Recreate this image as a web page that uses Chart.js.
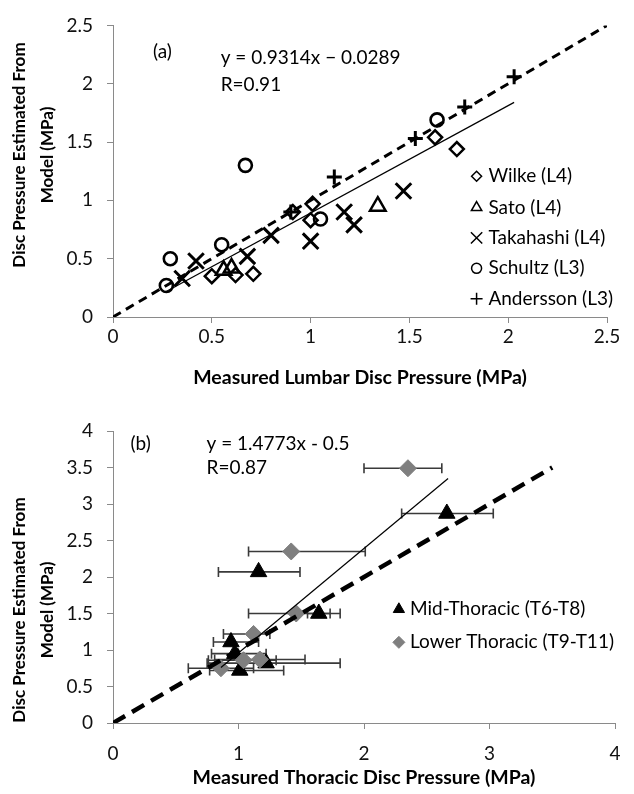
<!DOCTYPE html>
<html><head><meta charset="utf-8">
<script src="https://cdn.jsdelivr.net/npm/chart.js@4.4.0/dist/chart.umd.min.js"></script>
<style>
html,body{margin:0;padding:0;background:#fff;width:634px;height:794px;overflow:hidden}
canvas{position:absolute;left:0}
</style></head><body>
<canvas id="ca" width="634" height="400" style="top:0"></canvas>
<canvas id="cb" width="634" height="394" style="top:400px"></canvas>
<script>
// ---------- Panel (a) data : lumbar ----------
const wilkeX = [0.50, 0.62, 0.71, 0.91, 1.00, 1.01, 1.63, 1.74];
const wilkeY = [0.35, 0.36, 0.37, 0.90, 0.83, 0.97, 1.54, 1.44];
const satoX = [0.56, 0.60, 1.34];
const satoY = [0.40, 0.42, 0.95];
const takahashiX = [0.35, 0.42, 0.68, 0.80, 1.00, 1.17, 1.22, 1.47];
const takahashiY = [0.33, 0.48, 0.52, 0.70, 0.65, 0.90, 0.79, 1.08];
const schultzX = [0.27, 0.29, 0.55, 0.67, 1.05, 1.64];
const schultzY = [0.27, 0.50, 0.62, 1.30, 0.84, 1.69];
const anderssonX = [0.90, 1.12, 1.53, 1.78, 2.03];
const anderssonY = [0.90, 1.20, 1.53, 1.80, 2.06];
const identityAX = [0, 2.5];
const identityAY = [0, 2.5];
const trendAX = [0.26, 2.03];
const trendAY = [0.21, 1.84];
const ticksA = [0, 0.5, 1, 1.5, 2, 2.5];

// ---------- Panel (b) data : thoracic ----------
const midX  = [1.01, 1.22, 0.97, 0.94, 1.16, 1.64, 2.66];
const midY  = [0.72, 0.82, 0.95, 1.11, 2.07, 1.50, 2.87];
const midLo = [0.77, 0.75, 0.785, 0.80, 0.84, 1.55, 2.30];
const midHi = [1.36, 1.81, 1.22, 1.16, 1.49, 1.73, 3.03];
const lowX  = [0.86, 1.04, 1.17, 1.12, 1.46, 1.42, 2.35];
const lowY  = [0.75, 0.86, 0.87, 1.22, 1.50, 2.35, 3.49];
const lowLo = [0.60, 0.76, 0.81, 0.88, 1.08, 1.08, 2.00];
const lowHi = [1.12, 1.30, 1.53, 1.25, 1.81, 2.01, 2.62];
const identityBX = [0, 3.5];
const identityBY = [0, 3.5];
const trendBX = [0.86, 2.67];
const trendBY = [0.76, 3.35];
const ticksBX = [0, 1, 2, 3, 4];
const ticksBY = [0, 0.5, 1, 1.5, 2, 2.5, 3, 3.5, 4];

const FONT = 'Lato, "Open Sans", "Liberation Sans", sans-serif';
const AXIS = '#8a8a8a';
const pts = (xs, ys) => xs.map((x, i) => ({x: x, y: ys[i]}));

function drawMarker(ctx, style, r, bw, fill, stroke, x, y) {
  ctx.save();
  ctx.fillStyle = fill; ctx.strokeStyle = stroke; ctx.lineWidth = bw;
  Chart.helpers.drawPoint(ctx, {pointStyle: style, radius: r, rotation: 0, borderWidth: bw}, x, y);
  ctx.restore();
}

// text / legend / y-title plugin
const textPlugin = {
  id: 'texts',
  afterDraw(chart, args, o) {
    const ctx = chart.ctx, xs = chart.scales.x, ys = chart.scales.y;
    ctx.save();
    ctx.textBaseline = 'middle';
    (o.notes || []).forEach(n => {
      ctx.font = n.font; ctx.fillStyle = '#000'; ctx.textAlign = n.align || 'left';
      ctx.fillText(n.text, xs.getPixelForValue(n.x), ys.getPixelForValue(n.y));
    });
    (o.legend || []).forEach(l => {
      const px = xs.getPixelForValue(o.legendMarkerX), py = ys.getPixelForValue(l.y);
      drawMarker(ctx, l.style, l.r, l.bw, l.fill, l.stroke, px, py);
      ctx.font = o.legendFont; ctx.fillStyle = '#000'; ctx.textAlign = 'left';
      ctx.fillText(l.text, xs.getPixelForValue(o.legendTextX), py);
    });
    if (o.ytitle) {
      const t = o.ytitle;
      ctx.translate(0, t.cy);
      ctx.rotate(-Math.PI / 2);
      ctx.font = t.font; ctx.fillStyle = '#000'; ctx.textAlign = 'center';
      t.lines.forEach((s, i) => ctx.fillText(s, 0, t.xs[i]));
    }
    ctx.restore();
  }
};

// horizontal error bars plugin
const errPlugin = {
  id: 'errbars',
  beforeDatasetsDraw(chart) {
    const ctx = chart.ctx, xs = chart.scales.x, ys = chart.scales.y;
    ctx.save();
    ctx.strokeStyle = '#3a3a3a'; ctx.lineWidth = 1.6;
    chart.data.datasets.forEach(ds => {
      if (!ds.errLo) return;
      ds.data.forEach((p, i) => {
        const y = ys.getPixelForValue(p.y);
        const x0 = xs.getPixelForValue(ds.errLo[i]), x1 = xs.getPixelForValue(ds.errHi[i]);
        ctx.beginPath();
        ctx.moveTo(x0, y); ctx.lineTo(x1, y);
        ctx.moveTo(x0, y - 5); ctx.lineTo(x0, y + 5);
        ctx.moveTo(x1, y - 5); ctx.lineTo(x1, y + 5);
        ctx.stroke();
      });
    });
    ctx.restore();
  }
};

function axisCommon(min, max, tickVals, fitFn, tickPad) {
  return {
    type: 'linear', min: min, max: max,
    afterBuildTicks: s => { s.ticks = tickVals.map(v => ({value: v})); },
    afterFit: fitFn,
    grid: {display: true, drawOnChartArea: false, drawTicks: true, tickLength: 6, color: AXIS, lineWidth: 1},
    border: {display: true, color: AXIS, width: 1},
    ticks: {color: '#111', font: {family: FONT, size: 19}, padding: tickPad,
            callback: v => String(Math.round(v * 10) / 10)}
  };
}

const common = {
  responsive: false, animation: false,
  plugins: {legend: {display: false}, tooltip: {enabled: false}},
  events: []
};

// ---------- Chart (a) ----------
new Chart(document.getElementById('ca'), {
  type: 'scatter',
  data: {datasets: [
    {label: 'identity', data: pts(identityAX, identityAY), showLine: true, borderColor: '#000', borderWidth: 3, borderDash: [9, 6], pointRadius: 0, order: 0},
    {label: 'trend', data: pts(trendAX, trendAY), showLine: true, borderColor: '#000', borderWidth: 1.2, pointRadius: 0, order: 1},
    {label: 'Wilke (L4)', data: pts(wilkeX, wilkeY), pointStyle: 'rectRot', pointRadius: 7, pointBorderWidth: 2.5, borderColor: '#000', backgroundColor: 'rgba(0,0,0,0)', order: 2},
    {label: 'Sato (L4)', data: pts(satoX, satoY), pointStyle: 'triangle', pointRadius: 9, pointBorderWidth: 2.5, borderColor: '#000', backgroundColor: 'rgba(0,0,0,0)', order: 2},
    {label: 'Takahashi (L4)', data: pts(takahashiX, takahashiY), pointStyle: 'crossRot', pointRadius: 11, pointBorderWidth: 3, borderColor: '#000', backgroundColor: 'rgba(0,0,0,0)', order: 2},
    {label: 'Schultz (L3)', data: pts(schultzX, schultzY), pointStyle: 'circle', pointRadius: 6.5, pointBorderWidth: 2.6, borderColor: '#000', backgroundColor: 'rgba(0,0,0,0)', order: 2},
    {label: 'Andersson (L3)', data: pts(anderssonX, anderssonY), pointStyle: 'cross', pointRadius: 7.5, pointBorderWidth: 3, borderColor: '#000', backgroundColor: 'rgba(0,0,0,0)', order: 2}
  ]},
  options: Object.assign({}, common, {
    layout: {padding: {left: 0, right: 27, top: 19, bottom: 0}},
    scales: {
      x: Object.assign(axisCommon(0, 2.5, ticksA, s => { s.height = 83; }, 2), {
        title: {display: true, text: 'Measured Lumbar Disc Pressure (MPa)', color: '#000', font: {family: FONT, size: 19.5, weight: 'bold'}, padding: {top: 0, bottom: 11}}
      }),
      y: axisCommon(0, 2.5, ticksA, s => { s.width = 113; }, 14)
    },
    plugins: Object.assign({}, common.plugins, {
      texts: {
        notes: [
          {text: '(a)', x: 0.25, y: 2.27, align: 'center', font: '19px ' + FONT},
          {text: 'y = 0.9314x \u2212 0.0289', x: 0.545, y: 2.225, font: '19px ' + FONT},
          {text: 'R=0.91', x: 0.545, y: 1.99, font: '19px ' + FONT}
        ],
        legendFont: '19px ' + FONT,
        legendMarkerX: 1.84, legendTextX: 1.90,
        legend: [
          {text: 'Wilke (L4)', y: 1.207, style: 'rectRot', r: 5, bw: 1.5, fill: 'rgba(0,0,0,0)', stroke: '#000'},
          {text: 'Sato (L4)', y: 0.938, style: 'triangle', r: 6, bw: 1.5, fill: 'rgba(0,0,0,0)', stroke: '#000'},
          {text: 'Takahashi (L4)', y: 0.678, style: 'crossRot', r: 8, bw: 1.5, fill: 'rgba(0,0,0,0)', stroke: '#000'},
          {text: 'Schultz (L3)', y: 0.417, style: 'circle', r: 5, bw: 1.5, fill: 'rgba(0,0,0,0)', stroke: '#000'},
          {text: 'Andersson (L3)', y: 0.157, style: 'cross', r: 6, bw: 1.5, fill: 'rgba(0,0,0,0)', stroke: '#000'}
        ],
        ytitle: {cy: 155, xs: [20, 48], lines: ['Disc Pressure Estimated From', 'Model (MPa)'], font: 'bold 17px ' + FONT}
      }
    })
  }),
  plugins: [textPlugin]
});

// ---------- Chart (b) ----------
new Chart(document.getElementById('cb'), {
  type: 'scatter',
  data: {datasets: [
    {label: 'identity', data: pts(identityBX, identityBY), showLine: true, borderColor: '#000', borderWidth: 4.5, borderDash: [14, 8], pointRadius: 0, order: 0},
    {label: 'trend', data: pts(trendBX, trendBY), showLine: true, borderColor: '#000', borderWidth: 1.2, pointRadius: 0, order: 1},
    {label: 'Mid-Thoracic (T6-T8)', data: pts(midX, midY), errLo: midLo, errHi: midHi, pointStyle: 'triangle', pointRadius: 9.5, pointBorderWidth: 1, borderColor: '#000', backgroundColor: '#000', order: 3},
    {label: 'Lower Thoracic (T9-T11)', data: pts(lowX, lowY), errLo: lowLo, errHi: lowHi, pointStyle: 'rectRot', pointRadius: 8.5, pointBorderWidth: 1, borderColor: '#7f7f7f', backgroundColor: '#7f7f7f', order: 2}
  ]},
  options: Object.assign({}, common, {
    layout: {padding: {left: 0, right: 19, top: 31, bottom: 0}},
    scales: {
      x: Object.assign(axisCommon(0, 4, ticksBX, s => { s.height = 71; }, 13), {
        title: {display: true, text: 'Measured Thoracic Disc Pressure (MPa)', color: '#000', font: {family: FONT, size: 19.5, weight: 'bold'}, padding: {top: 0, bottom: 5}}
      }),
      y: axisCommon(0, 4, ticksBY, s => { s.width = 113; }, 14)
    },
    plugins: Object.assign({}, common.plugins, {
      texts: {
        notes: [
          {text: '(b)', x: 0.22, y: 3.83, align: 'center', font: '19px ' + FONT},
          {text: 'y = 1.4773x - 0.5', x: 0.745, y: 3.83, font: '19px ' + FONT},
          {text: 'R=0.87', x: 0.745, y: 3.49, font: '19px ' + FONT}
        ],
        legendFont: '19px ' + FONT,
        legendMarkerX: 2.278, legendTextX: 2.366,
        legend: [
          {text: 'Mid-Thoracic (T6-T8)', y: 1.558, style: 'triangle', r: 6.5, bw: 1, fill: '#000', stroke: '#000'},
          {text: 'Lower Thoracic (T9-T11)', y: 1.105, style: 'rectRot', r: 6, bw: 1, fill: '#7f7f7f', stroke: '#7f7f7f'}
        ],
        ytitle: {cy: 210, xs: [20, 48], lines: ['Disc Pressure Estimated From', 'Model (MPa)'], font: 'bold 17px ' + FONT}
      }
    })
  }),
  plugins: [errPlugin, textPlugin]
});
</script>
</body></html>
